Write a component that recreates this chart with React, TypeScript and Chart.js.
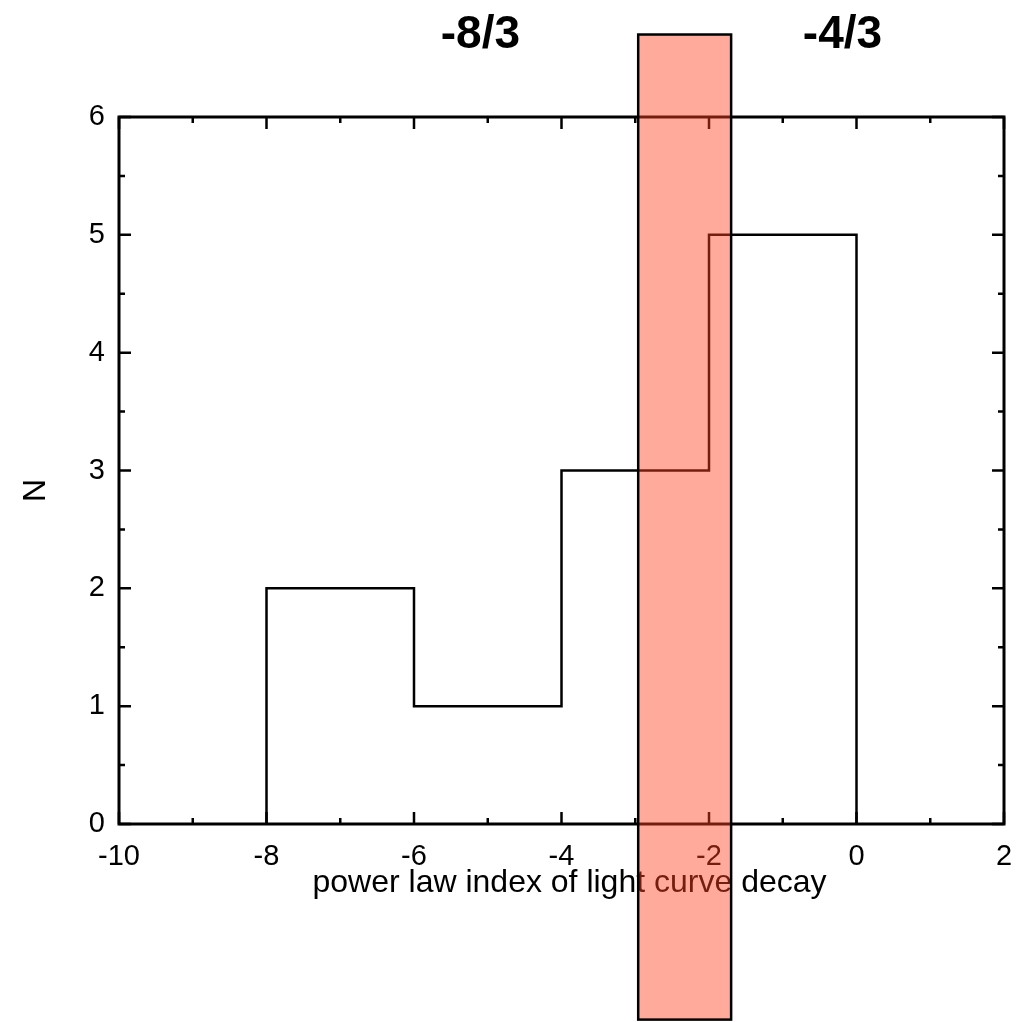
import React, { useEffect, useRef } from "react";
import { Chart, registerables } from "chart.js";

Chart.register(...registerables);

// Histogram bins
const binEdges = [-8, -6, -4, -2, 0];
const binCounts = [2, 1, 3, 5];

// Highlight band (data coordinates)
const bandX = [-2.96, -1.7];
const bandY = [-1.66, 6.7];

// Annotations above the plot
const annotations = [
  { text: "-8/3", x: -5.1, y: 6.69 },
  { text: "-4/3", x: -0.19, y: 6.69 },
];

const xRange = [-10, 2];
const yRange = [0, 6];
const xTitle = "power law index of light curve decay";
const yTitle = "N";

const FONT = '"Liberation Sans", Arial, sans-serif';

function buildSteps() {
  const pts: { x: number; y: number }[] = [];
  pts.push({ x: binEdges[0], y: 0 });
  for (let i = 0; i < binCounts.length; i++) {
    pts.push({ x: binEdges[i], y: binCounts[i] });
    pts.push({ x: binEdges[i + 1], y: binCounts[i] });
  }
  pts.push({ x: binEdges[binEdges.length - 1], y: 0 });
  return pts;
}

const framePlugin = {
  id: "frameTicks",
  afterDatasetsDraw(chart: any) {
    const { ctx, chartArea: a, scales } = chart;
    const xs = scales.x;
    const ys = scales.y;
    ctx.save();
    ctx.strokeStyle = "#000";
    ctx.lineWidth = 3;
    ctx.strokeRect(a.left, a.top, a.right - a.left, a.bottom - a.top);
    ctx.lineWidth = 2.5;
    const major = 12;
    const minor = 6;
    ctx.beginPath();
    for (let v = xRange[0]; v <= xRange[1] + 1e-9; v += 1) {
      const len = Math.round(v) % 2 === 0 ? major : minor;
      const px = xs.getPixelForValue(v);
      ctx.moveTo(px, a.bottom);
      ctx.lineTo(px, a.bottom - len);
      ctx.moveTo(px, a.top);
      ctx.lineTo(px, a.top + len);
    }
    for (let v = yRange[0]; v <= yRange[1] + 1e-9; v += 0.5) {
      const len = Math.abs(v - Math.round(v)) < 1e-9 ? major : minor;
      const py = ys.getPixelForValue(v);
      ctx.moveTo(a.left, py);
      ctx.lineTo(a.left + len, py);
      ctx.moveTo(a.right, py);
      ctx.lineTo(a.right - len, py);
    }
    ctx.stroke();

    // axis titles
    ctx.fillStyle = "#000";
    ctx.font = "32px " + FONT;
    ctx.textAlign = "center";
    ctx.textBaseline = "middle";
    ctx.fillText(xTitle, (a.left + a.right) / 2 + 8, a.bottom + 59);
    ctx.save();
    ctx.translate(36, (a.top + a.bottom) / 2 + 20);
    ctx.rotate(-Math.PI / 2);
    ctx.fillText(yTitle, 0, 0);
    ctx.restore();

    ctx.restore();
  },
  afterDraw(chart: any) {
    const { ctx, scales } = chart;
    const xs = scales.x;
    const ys = scales.y;
    ctx.save();
    // annotations
    ctx.fillStyle = "#000";
    ctx.font = "bold 46px " + FONT;
    ctx.textAlign = "center";
    ctx.textBaseline = "middle";
    for (const an of annotations) {
      ctx.fillText(an.text, xs.getPixelForValue(an.x), ys.getPixelForValue(an.y));
    }
    // band
    const x0 = xs.getPixelForValue(bandX[0]);
    const x1 = xs.getPixelForValue(bandX[1]);
    const y0 = ys.getPixelForValue(bandY[1]);
    const y1 = ys.getPixelForValue(bandY[0]);
    ctx.fillStyle = "rgba(255, 67, 33, 0.45)";
    ctx.fillRect(x0, y0, x1 - x0, y1 - y0);
    ctx.strokeStyle = "#000";
    ctx.lineWidth = 2.5;
    ctx.strokeRect(x0, y0, x1 - x0, y1 - y0);
    ctx.restore();
  },
};

export default function App() {
  const ref = useRef<HTMLCanvasElement>(null);
  useEffect(() => {
    if (!ref.current) return;
    const chart = new Chart(ref.current, {
      type: "line",
      data: {
        datasets: [
          {
            data: buildSteps(),
            borderColor: "#000",
            borderWidth: 2.5,
            pointRadius: 0,
            fill: false,
            tension: 0,
          },
        ],
      },
      options: {
        animation: false,
        responsive: false,
        maintainAspectRatio: false,
        events: [],
        layout: { padding: { top: 117, right: 12, left: 0, bottom: 0 } },
        plugins: { legend: { display: false }, tooltip: { enabled: false } },
        scales: {
          x: {
            type: "linear",
            min: xRange[0],
            max: xRange[1],
            grid: { display: false, drawTicks: false },
            border: { display: false },
            ticks: {
              stepSize: 2,
              color: "#000",
              padding: 16,
              maxRotation: 0,
              font: { family: FONT, size: 29 },
            },
            afterFit: (s: any) => {
              s.height = 1022 - 824;
              s.paddingLeft = 0;
              s.paddingRight = 0;
            },
          },
          y: {
            type: "linear",
            min: yRange[0],
            max: yRange[1],
            grid: { display: false, drawTicks: false },
            border: { display: false },
            ticks: {
              stepSize: 1,
              color: "#000",
              padding: 14,
              font: { family: FONT, size: 29 },
            },
            afterFit: (s: any) => {
              s.width = 119;
              s.paddingTop = 0;
              s.paddingBottom = 0;
            },
          },
        },
      },
      plugins: [framePlugin],
    });
    return () => chart.destroy();
  }, []);
  return (
    <div style={{ position: "absolute", left: 0, top: 0, width: 1016, height: 1022, background: "#fff" }}>
      <canvas ref={ref} width={1016} height={1022} style={{ display: "block" }} />
    </div>
  );
}
